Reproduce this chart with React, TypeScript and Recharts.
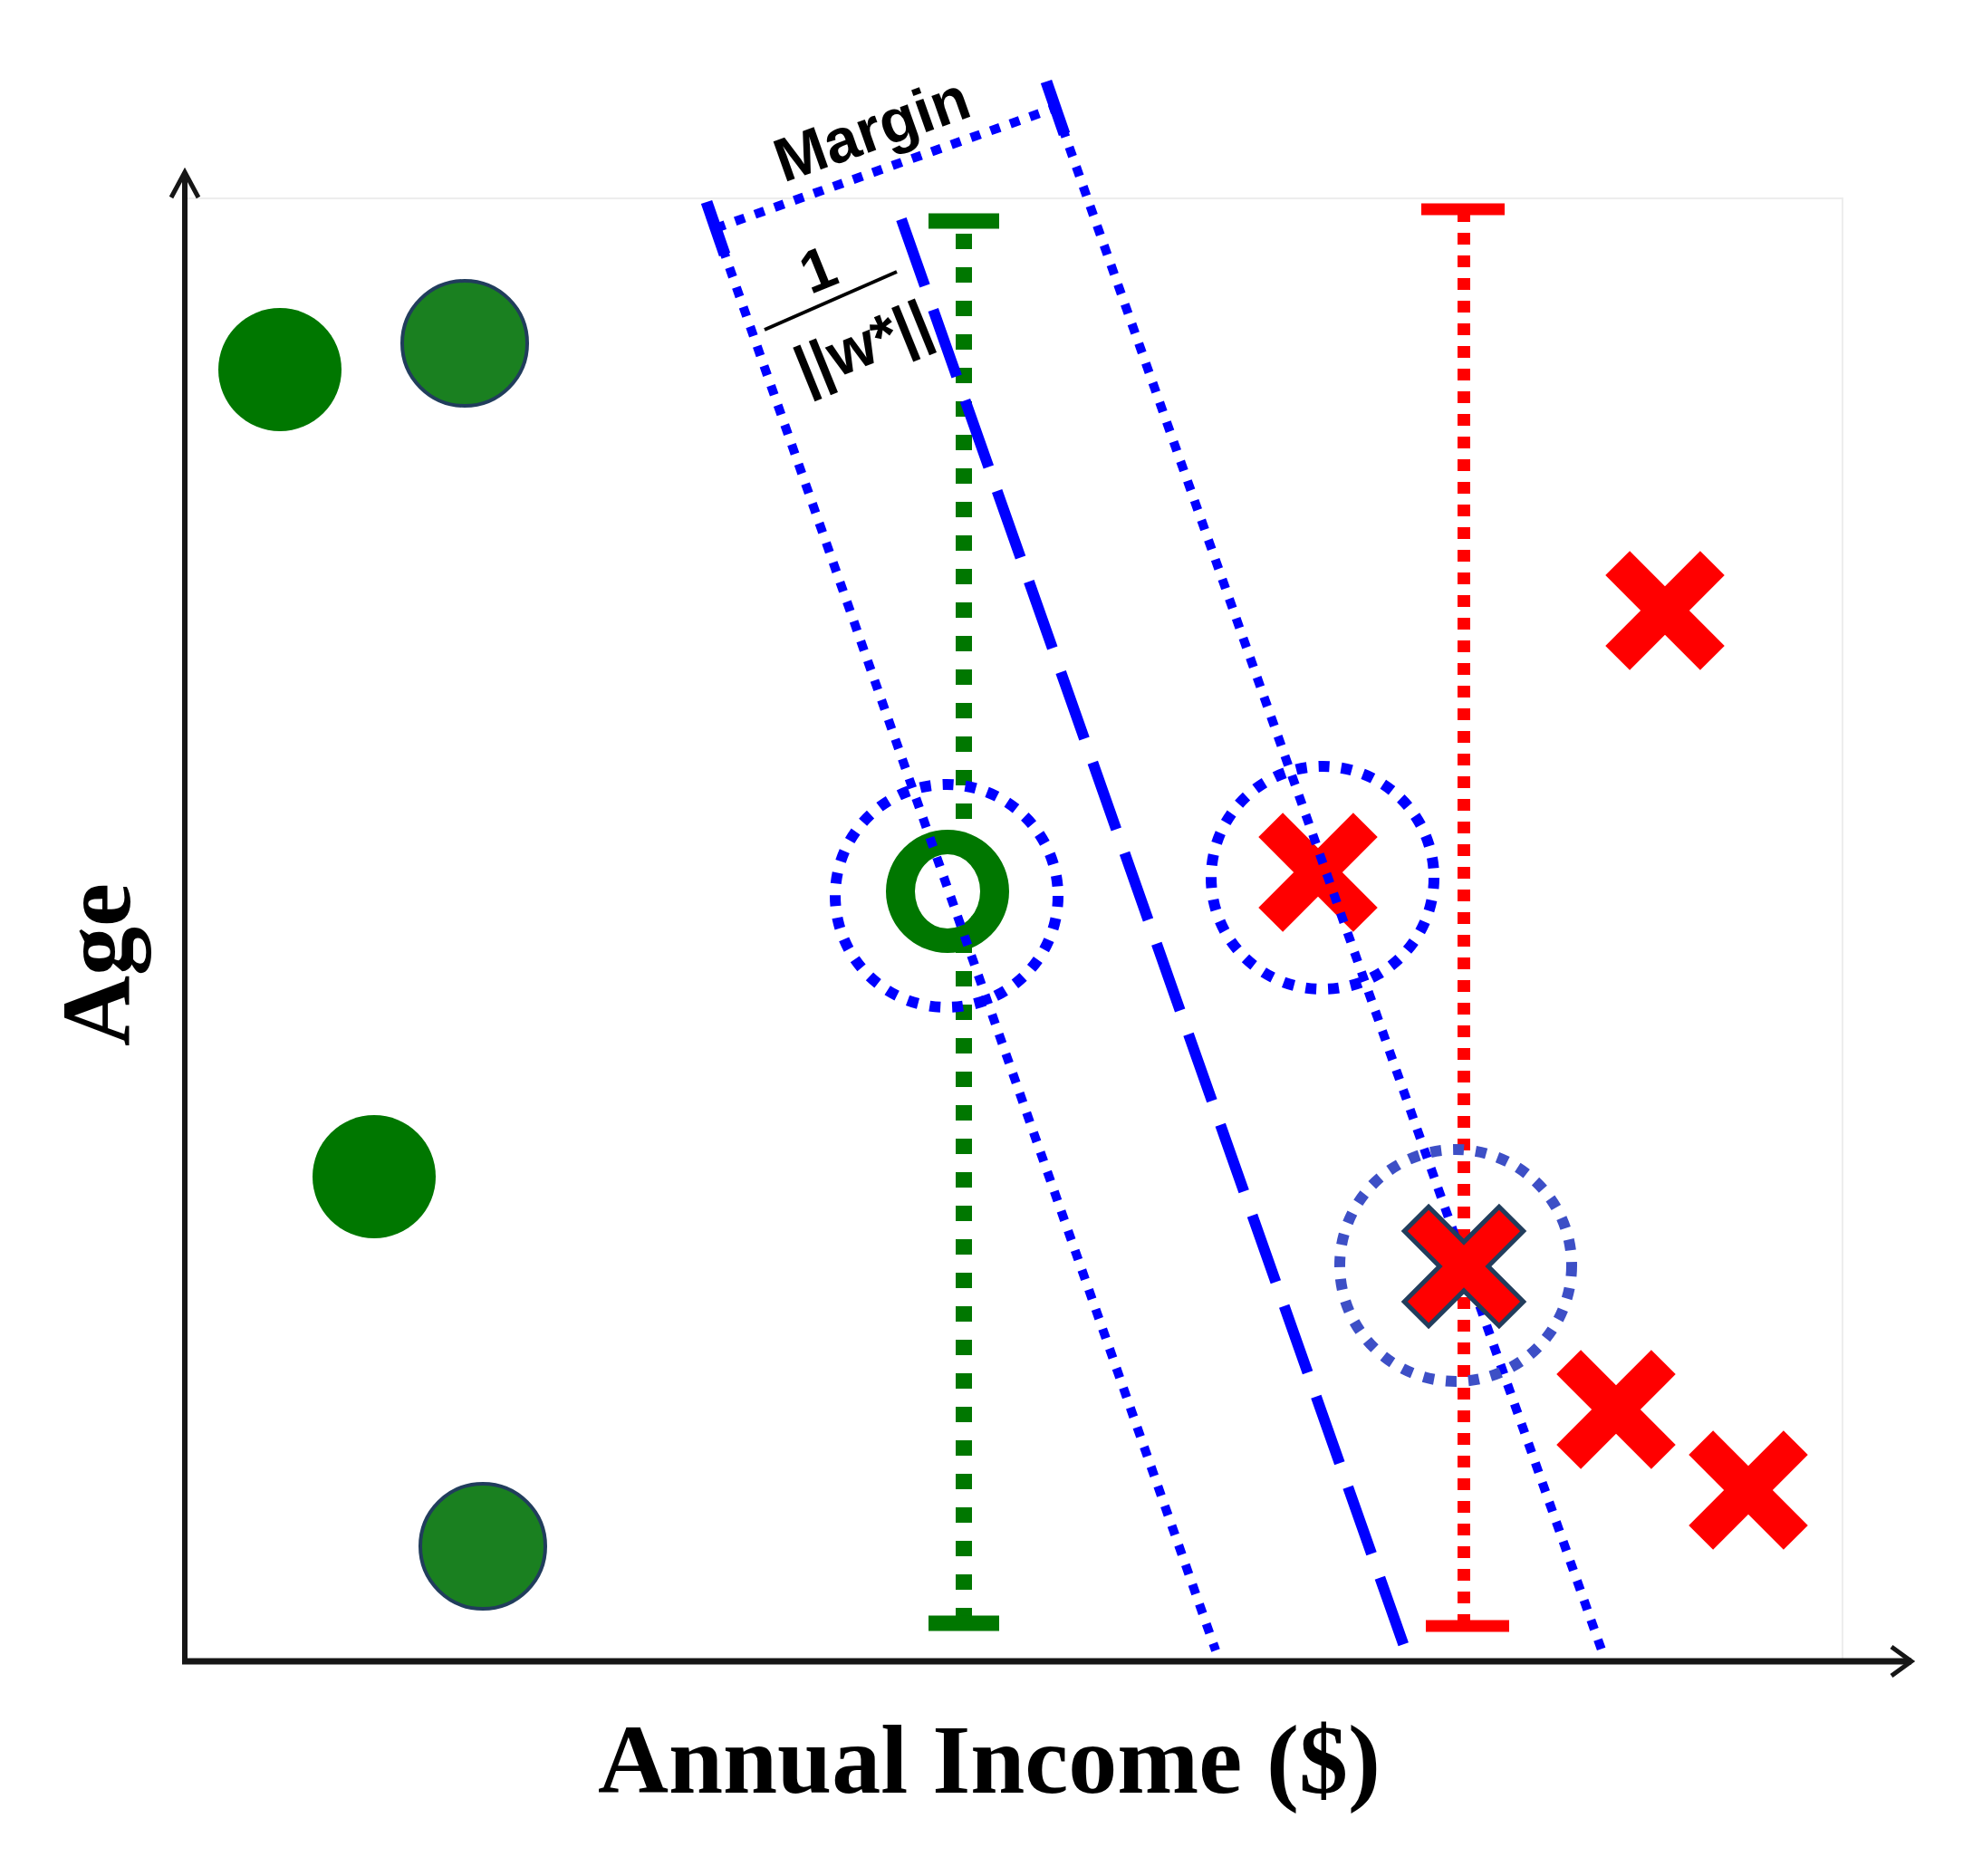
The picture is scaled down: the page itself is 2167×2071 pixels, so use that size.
import React from "react";
import {
  ComposedChart,
  XAxis,
  YAxis,
  Line,
  Scatter,
  ReferenceDot,
  ReferenceArea,
} from "recharts";

type Pt = { x: number; y: number };

// plot units: 1 unit = 10px, origin at the corner of the two axes
const X_DOMAIN: [number, number] = [-20.4, 196.3];
const Y_DOMAIN: [number, number] = [-23.7, 183.4];

// class "green" (left side of the boundary)
const greenPlain: Pt[] = [
  { x: 10.5, y: 142.6 },
  { x: 20.9, y: 53.5 },
];
const greenOutlined: Pt[] = [
  { x: 30.9, y: 145.5 },
  { x: 32.9, y: 12.7 },
];
const greenSupport: Pt[] = [{ x: 84.2, y: 85.0 }];

// class "red" (right side)
const redPlain: Pt[] = [
  { x: 163.4, y: 116.0 },
  { x: 125.1, y: 87.1 },
  { x: 158.0, y: 27.8 },
  { x: 172.6, y: 18.9 },
];
const redSupport: Pt[] = [{ x: 141.2, y: 43.6 }];

// dotted rings round the support vectors
const ringsBright: Pt[] = [
  { x: 84.1, y: 84.5 },
  { x: 125.6, y: 86.5 },
];
const ringsMuted: Pt[] = [{ x: 140.3, y: 43.7 }];

// separating line and the two margin lines
const boundary: Pt[] = [
  { x: 79.1, y: 159.2 },
  { x: 134.8, y: 1.1 },
];
const marginLeft: Pt[] = [
  { x: 58.6, y: 158.2 },
  { x: 113.8, y: 1.2 },
];
const marginRight: Pt[] = [
  { x: 96.1, y: 171.5 },
  { x: 156.6, y: 0.7 },
];
const bracket: Pt[] = [
  { x: 58.6, y: 158.2 },
  { x: 96.1, y: 171.5 },
];
const bracketCapLeft: Pt[] = [
  { x: 57.6, y: 161.1 },
  { x: 59.6, y: 155.3 },
];
const bracketCapRight: Pt[] = [
  { x: 95.1, y: 174.4 },
  { x: 97.1, y: 168.6 },
];

// vertical range bars
const greenBar: Pt[] = [
  { x: 86.0, y: 4.2 },
  { x: 86.0, y: 158.9 },
];
const greenCapTop: Pt[] = [
  { x: 82.1, y: 159.0 },
  { x: 89.9, y: 159.0 },
];
const greenCapBottom: Pt[] = [
  { x: 82.1, y: 4.2 },
  { x: 89.9, y: 4.2 },
];
const redBar: Pt[] = [
  { x: 141.2, y: 3.9 },
  { x: 141.2, y: 160.3 },
];
const redCapTop: Pt[] = [
  { x: 136.5, y: 160.3 },
  { x: 145.7, y: 160.3 },
];
const redCapBottom: Pt[] = [
  { x: 137.0, y: 3.9 },
  { x: 146.2, y: 3.9 },
];

const fractionBar: Pt[] = [
  { x: 64.0, y: 147.0 },
  { x: 78.6, y: 153.4 },
];

// axes with arrow heads
const xAxisLine: Pt[] = [
  { x: -0.3, y: 0 },
  { x: 190.6, y: 0 },
];
const yAxisLine: Pt[] = [
  { x: 0, y: -0.3 },
  { x: 0, y: 164.4 },
];
const xArrow: Pt[] = [
  { x: 188.4, y: 1.6 },
  { x: 190.6, y: 0 },
  { x: 188.4, y: -1.6 },
];
const yArrow: Pt[] = [
  { x: -1.5, y: 161.6 },
  { x: 0, y: 164.4 },
  { x: 1.5, y: 161.6 },
];

const plotFrame = { x1: 0, x2: 183, y1: 0, y2: 161.5 };

const texts = [
  { key: "margin", text: "Margin", x: 75.8, y: 169.2, angle: -19.5, size: 68, kind: "sans" },
  { key: "num", text: "1", x: 69.9, y: 153.7, angle: -22, size: 66, kind: "sans" },
  { key: "den", text: "||w*||", x: 74.8, y: 145.4, angle: -22, size: 68, kind: "sans" },
  { key: "xTitle", text: "Annual Income ($)", x: 88.8, y: -14.5, angle: 0, size: 108, kind: "serif" },
  { key: "yTitle", text: "Age", x: -6.1, y: 76.9, angle: -90, size: 108, kind: "serif" },
];

const BLUE = "#0000ff";
const RED = "#ff0000";
const GREEN = "#007700";
const NAVY = "#213d5c";

function seg(id: string, data: Pt[], stroke: string, width: number, dash?: string, z = 400) {
  return (
    <Line
      key={id}
      data={data}
      dataKey="y"
      type="linear"
      stroke={stroke}
      strokeWidth={width}
      strokeDasharray={dash}
      dot={false}
      activeDot={false}
      isAnimationActive={false}
      zIndex={z}
    />
  );
}

const Disc = (props: any) => (
  <circle cx={props.cx} cy={props.cy} r={68} fill={GREEN} />
);

const OutlinedDisc = (props: any) => (
  <circle cx={props.cx} cy={props.cy} r={69} fill="#1a8020" stroke={NAVY} strokeWidth={4} />
);

const HollowDisc = (props: any) => {
  const { cx, cy } = props;
  return (
    <g>
      <ellipse cx={cx} cy={cy} rx={36} ry={41} fill="#fff" />
      <path
        fillRule="evenodd"
        fill={GREEN}
        d={`M ${cx - 68} ${cy} a 68 68 0 1 0 136 0 a 68 68 0 1 0 -136 0 Z M ${cx - 36} ${cy} a 36 41 0 1 1 72 0 a 36 41 0 1 1 -72 0 Z`}
      />
    </g>
  );
};

function crossPath(cx: number, cy: number) {
  const L = 74;
  const t = 19;
  const pts = [
    [-t, -L], [t, -L], [t, -t], [L, -t], [L, t], [t, t],
    [t, L], [-t, L], [-t, t], [-L, t], [-L, -t], [-t, -t],
  ];
  return "M " + pts.map(([a, b]) => `${cx + a} ${cy + b}`).join(" L ") + " Z";
}

const Cross = (props: any) => (
  <path d={crossPath(props.cx, props.cy)} fill={RED} transform={`rotate(45 ${props.cx} ${props.cy})`} />
);

const OutlinedCross = (props: any) => (
  <path
    d={crossPath(props.cx, props.cy)}
    fill={RED}
    stroke={NAVY}
    strokeWidth={5}
    strokeLinejoin="miter"
    transform={`rotate(45 ${props.cx} ${props.cy})`}
  />
);

const RingBright = (props: any) => (
  <circle cx={props.cx} cy={props.cy} r={123} fill="none" stroke={BLUE} strokeWidth={12} strokeDasharray="12 13" />
);

const RingMuted = (props: any) => (
  <circle cx={props.cx} cy={props.cy} r={128} fill="none" stroke="#3d4fc6" strokeWidth={12} strokeDasharray="12 13" />
);

function makeText(t: (typeof texts)[number]) {
  return (p: any) => (
    <text
      x={p.cx}
      y={p.cy}
      transform={t.angle ? `rotate(${t.angle} ${p.cx} ${p.cy})` : undefined}
      textAnchor="middle"
      dominantBaseline={t.kind === "sans" ? "central" : "alphabetic"}
      fontFamily={t.kind === "sans" ? "'Liberation Sans', Arial, sans-serif" : "'Liberation Serif', 'Times New Roman', serif"}
      fontWeight="bold"
      fontSize={t.size}
      fill="#000"
    >
      {t.text}
    </text>
  );
}

export default function App() {
  return (
    <div style={{ position: "absolute", left: 0, top: 0, width: 2167, height: 2071, background: "#fff" }}>
      <ComposedChart width={2167} height={2071} margin={{ top: 0, right: 0, bottom: 0, left: 0 }}>
        <XAxis type="number" dataKey="x" domain={X_DOMAIN} allowDataOverflow hide />
        <YAxis type="number" dataKey="y" domain={Y_DOMAIN} allowDataOverflow hide />

        <ReferenceArea {...plotFrame} fill="none" stroke="#ededed" strokeWidth={2} zIndex={50} />

        {seg("greenBar", greenBar, GREEN, 18, "17 20", 100)}
        {seg("greenCapTop", greenCapTop, GREEN, 17, undefined, 100)}
        {seg("greenCapBottom", greenCapBottom, GREEN, 17, undefined, 100)}
        {seg("redBar", redBar, RED, 14, "13 12", 100)}
        {seg("redCapTop", redCapTop, RED, 13, undefined, 100)}
        {seg("redCapBottom", redCapBottom, RED, 13, undefined, 100)}

        <Scatter name="green" data={greenPlain} shape={Disc} isAnimationActive={false} zIndex={200} />
        <Scatter name="greenSupport" data={greenSupport} shape={HollowDisc} isAnimationActive={false} zIndex={200} />
        <Scatter name="red" data={redPlain} shape={Cross} isAnimationActive={false} zIndex={200} />

        {seg("boundary", boundary, BLUE, 12, "78 28", 300)}
        {seg("marginLeft", marginLeft, BLUE, 10, "11 12", 300)}
        {seg("marginRight", marginRight, BLUE, 10, "11 12", 300)}
        {seg("bracket", bracket, BLUE, 10, "11 12", 300)}
        {seg("bracketCapLeft", bracketCapLeft, BLUE, 13, undefined, 300)}
        {seg("bracketCapRight", bracketCapRight, BLUE, 13, undefined, 300)}
        {seg("fractionBar", fractionBar, "#000", 4, undefined, 300)}

        <Scatter name="ringsBright" data={ringsBright} shape={RingBright} isAnimationActive={false} zIndex={350} />
        <Scatter name="ringsMuted" data={ringsMuted} shape={RingMuted} isAnimationActive={false} zIndex={350} />

        <Scatter name="greenOutlined" data={greenOutlined} shape={OutlinedDisc} isAnimationActive={false} zIndex={380} />
        <Scatter name="redSupport" data={redSupport} shape={OutlinedCross} isAnimationActive={false} zIndex={380} />

        {seg("xAxis", xAxisLine, "#161616", 7, undefined, 450)}
        {seg("yAxis", yAxisLine, "#161616", 6, undefined, 450)}
        {seg("xArrow", xArrow, "#161616", 5, undefined, 450)}
        {seg("yArrow", yArrow, "#161616", 5, undefined, 450)}

        {texts.map((t) => (
          <ReferenceDot key={t.key} x={t.x} y={t.y} r={0} ifOverflow="visible" shape={makeText(t)} zIndex={500} />
        ))}
      </ComposedChart>
    </div>
  );
}
